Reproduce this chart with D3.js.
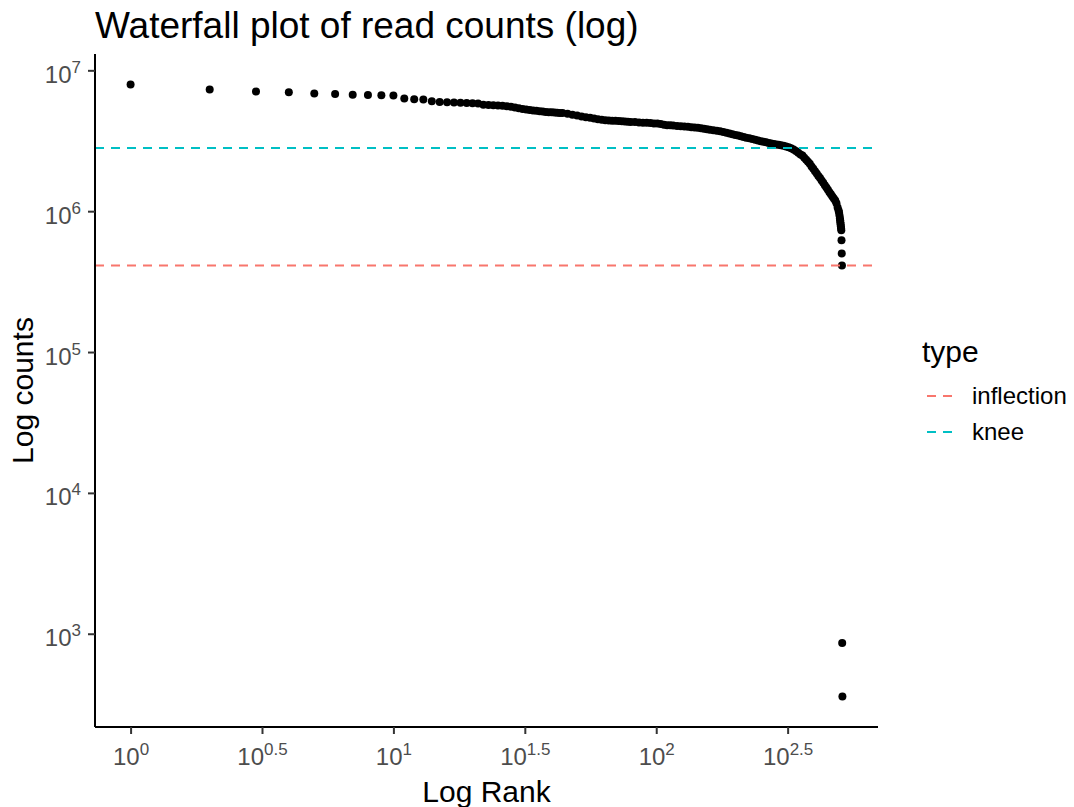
<!DOCTYPE html>
<html lang="en">
<head>
  <meta charset="UTF-8">
  <title>Waterfall plot</title>
  <script src="https://d3js.org/d3.v7.min.js"></script>
  <style>
    body { margin: 0; background: #fff; }
    text { font-family: 'Liberation Sans', Arial, Helvetica, sans-serif; }
  </style>
</head>
<body>
  <div id="canvas"></div>
  <script>
    // barcode rank and read count
    const ranks = [1,2,3,4,5,6,7,8,9,10,11,12,13,14,15,16,17,18,19,20,21,22,23,24,25,26,27,28,29,30,
      31,32,33,34,35,36,37,38,39,40,41,42,43,44,46,48,50,52,54,56,58,60,62,64,66,68,70,72,74,76,78,80,
      83,86,89,92,95,98,101,104,107,110,113,116,120,124,128,132,136,140,144,148,152,156,160,165,170,175,
      180,185,190,195,200,205,210,215,220,226,232,238,244,250,256,262,268,274,280,286,292,298,305,312,
      319,326,333,340,347,354,360,366,372,378,384,390,396,402,408,414,420,426,432,438,444,450,456,462,
      468,474,480,485,490,494,496,498,500,501,502,503,504,505,506,507,508,509,510,511];
    const counts = [7920000,7300000,7060000,6980000,6840000,6790000,6720000,6680000,6660000,6620000,
      6300000,6230000,6210000,6030000,5960000,5930000,5900000,5880000,5860000,5830000,5810000,5690000,
      5670000,5650000,5630000,5600000,5560000,5510000,5450000,5380000,5320000,5270000,5230000,5190000,
      5160000,5130000,5100000,5060000,5040000,5030000,5010000,4990000,4980000,4970000,4920000,4840000,
      4770000,4700000,4650000,4610000,4550000,4490000,4450000,4420000,4410000,4390000,4380000,4360000,
      4350000,4330000,4320000,4300000,4290000,4270000,4250000,4240000,4220000,4200000,4200000,4160000,
      4110000,4080000,4070000,4050000,4030000,4010000,3990000,3970000,3950000,3930000,3910000,3880000,
      3850000,3820000,3790000,3750000,3720000,3690000,3650000,3600000,3560000,3520000,3480000,3440000,
      3400000,3360000,3320000,3290000,3250000,3210000,3180000,3140000,3110000,3080000,3050000,3020000,
      3000000,2980000,2960000,2940000,2910000,2880000,2840000,2800000,2740000,2670000,2600000,2530000,
      2480000,2400000,2320000,2240000,2170000,2080000,2000000,1920000,1850000,1780000,1720000,1650000,
      1590000,1530000,1470000,1420000,1360000,1320000,1270000,1230000,1190000,1140000,1060000,1010000,
      984000,937000,892000,863000,836000,809000,783000,758000,733000,623000,501000,412000,859,359];

    const lineTypes = ['inflection', 'knee'];
    const lineValues = [412000, 2810000];
    const lineColors = ['#F8766D', '#00BFC4'];

    const xTickExp = ['0', '0.5', '1', '1.5', '2', '2.5'];
    const yTickExp = ['3', '4', '5', '6', '7'];

    const width = 1074;
    const height = 807;
    const panelLeft = 95, panelRight = 878, panelTop = 54, panelBottom = 727;

    const svg = d3.select('#canvas')
      .append('svg')
      .attr('width', width)
      .attr('height', height);

    // ggplot style 5% expansion on the log scale
    function expand(lo, hi) {
      const a = Math.log10(lo), b = Math.log10(hi), pad = (b - a) * 0.05;
      return [Math.pow(10, a - pad), Math.pow(10, b + pad)];
    }

    const scaleX = d3.scaleLog()
      .domain(expand(d3.min(ranks), d3.max(ranks)))
      .range([panelLeft, panelRight]);
    const scaleY = d3.scaleLog()
      .domain(expand(d3.min(counts), d3.max(counts)))
      .range([panelBottom, panelTop]);

    svg.append('g')
      .selectAll('circle')
      .data(ranks)
      .enter()
      .append('circle')
      .attr('cx', d => scaleX(d))
      .attr('cy', (d, i) => scaleY(counts[i]))
      .attr('r', 4)
      .attr('fill', '#000');

    svg.append('g')
      .selectAll('line')
      .data(lineValues)
      .enter()
      .append('line')
      .attr('x1', panelLeft)
      .attr('x2', panelRight)
      .attr('y1', d => scaleY(d))
      .attr('y2', d => scaleY(d))
      .attr('stroke', (d, i) => lineColors[i])
      .attr('stroke-width', 2)
      .attr('stroke-dasharray', '9,7');

    // axes
    const xAxis = d3.axisBottom(scaleX)
      .tickValues(xTickExp.map(e => Math.pow(10, +e)))
      .tickFormat('')
      .tickSize(7)
      .tickSizeOuter(0);
    const gx = svg.append('g')
      .attr('transform', 'translate(0,' + panelBottom + ')')
      .call(xAxis);
    gx.select('.domain').attr('stroke', '#000').attr('stroke-width', 2).attr('d', 'M' + panelLeft + ',0H' + panelRight);
    gx.selectAll('.tick line').attr('stroke', '#333').attr('stroke-width', 2);
    gx.selectAll('.tick text').remove();
    gx.selectAll('.tick').each(function(d, i) {
      const t = d3.select(this).append('text')
        .attr('y', 38)
        .attr('text-anchor', 'middle')
        .attr('fill', '#4D4D4D')
        .style('font-size', '24px');
      t.append('tspan').text('10');
      t.append('tspan').attr('dy', -10).style('font-size', '17px').text(xTickExp[i]);
    });

    const yAxis = d3.axisLeft(scaleY)
      .tickValues(yTickExp.map(e => Math.pow(10, +e)))
      .tickFormat('')
      .tickSize(7)
      .tickSizeOuter(0);
    const gy = svg.append('g')
      .attr('transform', 'translate(' + panelLeft + ',0)')
      .call(yAxis);
    gy.select('.domain').attr('stroke', '#000').attr('stroke-width', 2).attr('d', 'M0,' + panelTop + 'V' + panelBottom);
    gy.selectAll('.tick line').attr('stroke', '#333').attr('stroke-width', 2);
    gy.selectAll('.tick text').remove();
    gy.selectAll('.tick').each(function(d, i) {
      const t = d3.select(this).append('text')
        .attr('x', -14)
        .attr('y', 12)
        .attr('text-anchor', 'end')
        .attr('fill', '#4D4D4D')
        .style('font-size', '24px');
      t.append('tspan').text('10');
      t.append('tspan').attr('dy', -10).style('font-size', '17px').text(yTickExp[i]);
    });

    // titles
    svg.append('text')
      .attr('x', panelLeft)
      .attr('y', 38)
      .style('font-size', '37px')
      .text('Waterfall plot of read counts (log)');
    svg.append('text')
      .attr('x', (panelLeft + panelRight) / 2)
      .attr('y', 802)
      .attr('text-anchor', 'middle')
      .style('font-size', '30px')
      .text('Log Rank');
    svg.append('text')
      .attr('transform', 'translate(33,' + (panelTop + panelBottom) / 2 + ') rotate(-90)')
      .attr('text-anchor', 'middle')
      .style('font-size', '30px')
      .text('Log counts');

    // legend
    const legend = svg.append('g').attr('transform', 'translate(922,0)');
    legend.append('text')
      .attr('x', 0)
      .attr('y', 362)
      .style('font-size', '30px')
      .text('type');
    lineTypes.forEach((name, i) => {
      const y = 396 + i * 36;
      legend.append('line')
        .attr('x1', 5).attr('x2', 36)
        .attr('y1', y).attr('y2', y)
        .attr('stroke', lineColors[i])
        .attr('stroke-width', 2)
        .attr('stroke-dasharray', '9,7');
      legend.append('text')
        .attr('x', 50)
        .attr('y', y + 8)
        .style('font-size', '24px')
        .text(name);
    });
  </script>
</body>
</html>
